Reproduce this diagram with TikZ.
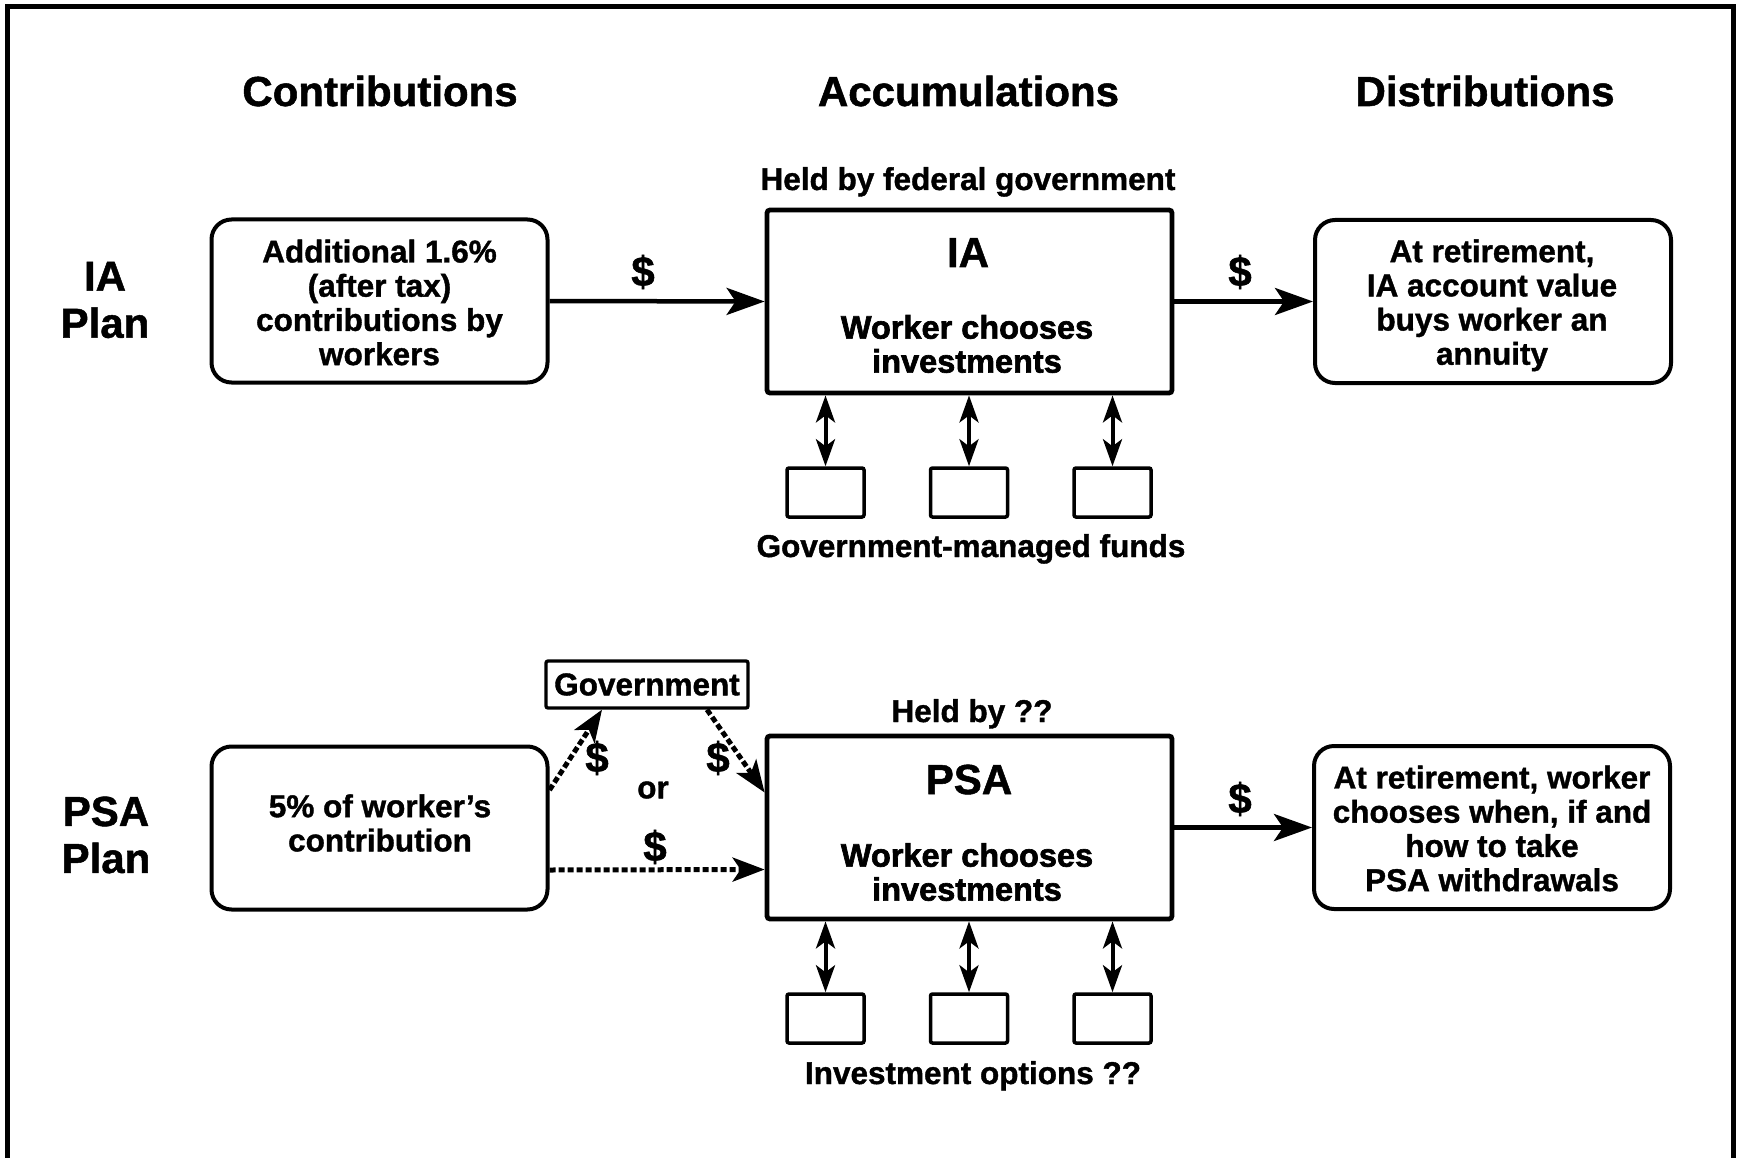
\documentclass[tikz,border=0pt]{standalone}
\usepackage{fontspec}
\setmainfont{Liberation Sans}[BoldFeatures={FakeBold=1.2}]
\newfontfamily\heavyfont{Liberation Sans Bold}[FakeBold=2]
\usetikzlibrary{arrows.meta}
\begin{document}
\begin{tikzpicture}[x=1pt,y=-1pt,
  every node/.style={font=\bfseries, inner sep=0pt},
  body/.style={font=\fontsize{31.5}{34.2}\selectfont\bfseries, align=center},
  big/.style={font=\fontsize{42}{47}\selectfont\bfseries, align=center},
  inner/.style={font=\fontsize{32.5}{34}\selectfont\heavyfont, align=center},
  rbox/.style={draw, line width=4pt, rounded corners=20pt, minimum width=336pt, minimum height=163pt},
  accbox/.style={draw, line width=4.8pt, rounded corners=3pt, minimum width=405pt, minimum height=183pt},
  fund/.style={draw, line width=3.5pt, rounded corners=2pt, minimum width=77pt, minimum height=49pt},
  govbox/.style={draw, line width=3.3pt, rounded corners=2pt, minimum width=202pt, minimum height=47pt, body},
  flow/.style={line width=4.5pt, -{Stealth[length=38pt,width=27pt,inset=9pt]}},
  dflow/.style={line width=5pt, dash pattern=on 6pt off 3pt, -{Stealth[length=32pt,width=24pt,inset=8pt]}},
  twoway/.style={line width=4pt, {Stealth[length=27pt,width=19pt,inset=7pt]}-{Stealth[length=27pt,width=19pt,inset=7pt]}},
  dollar/.style={font=\fontsize{42}{44}\selectfont\bfseries}
]
\useasboundingbox (0,0) rectangle (1739,1158);
\begin{scope}
  \clip (0,0) rectangle (1739,1158);
  \fill[white] (0,0) rectangle (1739,1158);
  \draw[line width=5pt] (7,1180) -- (7,7) -- (1733,7) -- (1733,1180);
\end{scope}

% column headers
\node[big, anchor=base] (hcon) at (380,106) {Contributions};
\node[big, anchor=base] (hacc) at (968.5,106) {Accumulations};
\node[big, anchor=base] (hdis) at (1485,106) {Distributions};

% ---------- IA row ----------
\node[big] (iaplan) at (105,300) {IA\\Plan};
\node[rbox] (iac) at (379.5,301) {};
\node[body] (iact) at (379.5,302.5) {Additional 1.6\%\\(after tax)\\contributions by\\workers};
\node[accbox] (iaa) at (969.5,301.5) {};
\node[body, anchor=base] (iaheld) at (968,190) {Held by federal government};
\node[big, anchor=base] (iaat) at (968,267) {IA};
\node[inner] (iaat2) at (967,344) {Worker chooses\\investments};
\node[rbox, minimum width=356pt] (iad) at (1493,301.5) {};
\node[body] (iadt) at (1492,305.3) {At retirement,\\IA account value\\buys worker an\\annuity};

\draw[flow] (iac.east) -- (iaa.west);
\node[dollar] (iad1) at (643,272) {\$};
\draw[flow] (iaa.east) -- (iad.west);
\node[dollar] (iad2) at (1240,272) {\$};

\node[fund] (iaf1) at (825.5,492.5) {};
\node[fund] (iaf2) at (969,492.5) {};
\node[fund] (iaf3) at (1112.5,492.5) {};
\draw[twoway] (iaf1.north |- iaa.south) -- (iaf1.north);
\draw[twoway] (iaf2.north |- iaa.south) -- (iaf2.north);
\draw[twoway] (iaf3.north |- iaa.south) -- (iaf3.north);
\node[body, anchor=base] (iafunds) at (971,557) {Government-managed funds};

% ---------- PSA row ----------
\node[big] (psaplan) at (106,835) {PSA\\Plan};
\node[rbox] (psac) at (379.5,828) {};
\node[body] (psact) at (380,823) {5\% of worker’s\\contribution};
\node[accbox] (psaa) at (969.5,827.5) {};
\node[body, anchor=base] (psaheld) at (972,722) {Held by ??};
\node[big, anchor=base] (psaat) at (969,794) {PSA};
\node[inner] (psaat2) at (967,872) {Worker chooses\\investments};
\node[rbox, minimum width=356pt] (psad) at (1492,827.5) {};
\node[body] (psadt) at (1492,828.5) {At retirement, worker\\chooses when, if and\\how to take\\PSA withdrawals};

\node[govbox] (gov) at (647,684.5) {Government};

\draw[flow] (psaa.east) -- (psad.west);
\node[dollar] (psad1) at (1240,799) {\$};

\draw[dflow] ([yshift=-42pt]psac.east) -- ([yshift=-42pt]psaa.west);
\node[dollar] (psad2) at (655,847) {\$};
\draw[dflow] ([yshift=38pt]psac.east) -- ([xshift=-45pt]gov.south);
\node[dollar] (psad3) at (597,758) {\$};
\draw[dflow] ([xshift=60pt]gov.south) -- ([yshift=35pt]psaa.west);
\node[dollar] (psad4) at (718,758) {\$};
\node[body] (psaor) at (653,790) {or};

\node[fund] (psaf1) at (825.5,1018.5) {};
\node[fund] (psaf2) at (969,1018.5) {};
\node[fund] (psaf3) at (1112.5,1018.5) {};
\draw[twoway] (psaf1.north |- psaa.south) -- (psaf1.north);
\draw[twoway] (psaf2.north |- psaa.south) -- (psaf2.north);
\draw[twoway] (psaf3.north |- psaa.south) -- (psaf3.north);
\node[body, anchor=base] (psafunds) at (973,1084) {Investment options ??};
\end{tikzpicture}
\end{document}
